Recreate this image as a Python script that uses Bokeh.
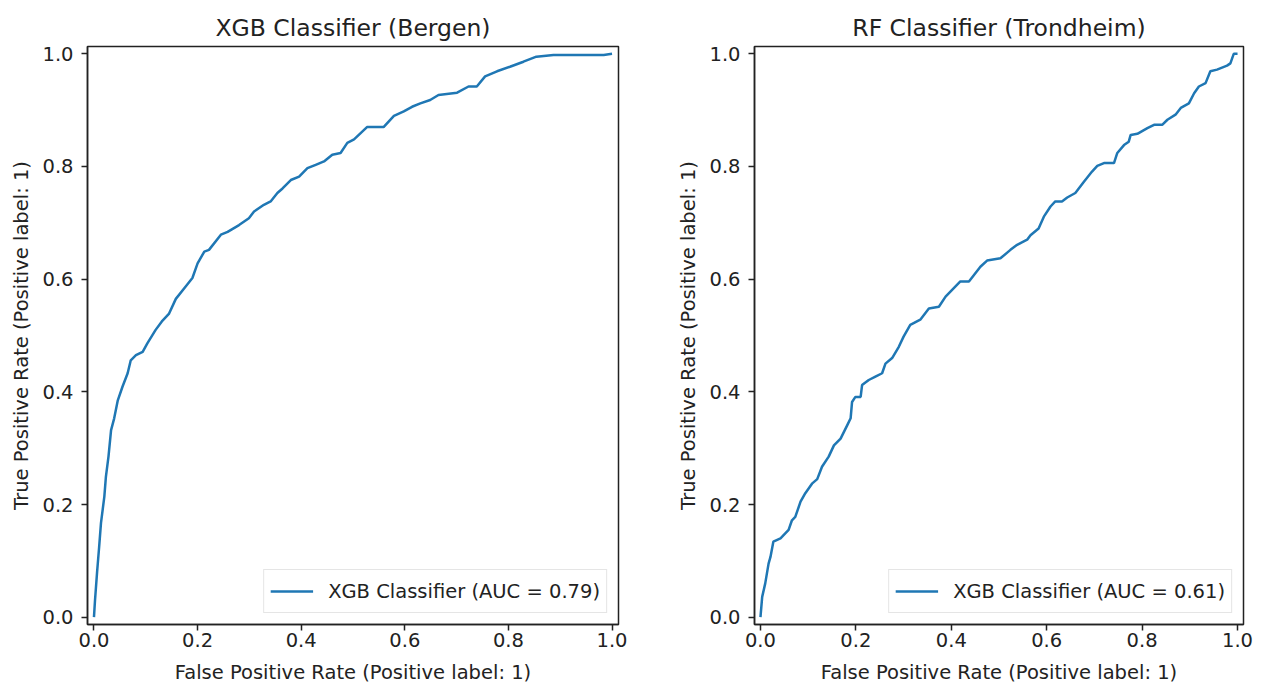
from bokeh.plotting import figure
from bokeh.layouts import row
from bokeh.models import Range1d, FixedTicker, PrintfTickFormatter, Legend, LegendItem
from bokeh.embed import file_html
from bokeh.resources import INLINE

# ---- data ----
bergen_fpr = [0, 0.002, 0.006, 0.010, 0.0135, 0.020, 0.023, 0.028, 0.033, 0.039, 0.046, 0.055,
              0.065, 0.071, 0.081, 0.094, 0.103, 0.119, 0.131, 0.145, 0.158, 0.177, 0.190, 0.200,
              0.213, 0.222, 0.245, 0.258, 0.280, 0.299, 0.309, 0.328, 0.341, 0.354, 0.364, 0.380,
              0.396, 0.412, 0.428, 0.444, 0.460, 0.476, 0.489, 0.502, 0.527, 0.559, 0.579, 0.598,
              0.614, 0.630, 0.649, 0.665, 0.701, 0.723, 0.739, 0.755, 0.778, 0.803, 0.829, 0.854,
              0.887, 0.984, 1.0]
bergen_tpr = [0, 0.03, 0.08, 0.125, 0.167, 0.214, 0.249, 0.285, 0.332, 0.353, 0.385, 0.409,
              0.433, 0.456, 0.465, 0.471, 0.486, 0.510, 0.525, 0.539, 0.565, 0.587, 0.602, 0.628,
              0.649, 0.652, 0.679, 0.684, 0.696, 0.708, 0.720, 0.732, 0.738, 0.753, 0.761, 0.776,
              0.782, 0.797, 0.803, 0.809, 0.821, 0.824, 0.842, 0.848, 0.870, 0.870, 0.890, 0.898,
              0.906, 0.912, 0.918, 0.927, 0.931, 0.942, 0.942, 0.960, 0.969, 0.977, 0.986, 0.995,
              0.998, 0.998, 1.0]

trond_fpr = [0, 0.0036, 0.010, 0.017, 0.021, 0.027, 0.042, 0.059, 0.066, 0.073, 0.084, 0.094,
             0.108, 0.119, 0.129, 0.143, 0.154, 0.168, 0.182, 0.189, 0.192, 0.199, 0.210, 0.213,
             0.227, 0.241, 0.255, 0.262, 0.276, 0.290, 0.300, 0.314, 0.335, 0.353, 0.374, 0.388,
             0.419, 0.437, 0.461, 0.475, 0.503, 0.524, 0.538, 0.559, 0.566, 0.583, 0.594, 0.608,
             0.618, 0.632, 0.643, 0.660, 0.678, 0.695, 0.706, 0.720, 0.741, 0.748, 0.762, 0.772,
             0.776, 0.790, 0.811, 0.825, 0.842, 0.853, 0.870, 0.881, 0.898, 0.909, 0.919, 0.933,
             0.943, 0.957, 0.978, 0.985, 0.992, 1.0]
trond_tpr = [0, 0.036, 0.060, 0.095, 0.107, 0.134, 0.140, 0.155, 0.172, 0.178, 0.205, 0.220,
             0.237, 0.245, 0.267, 0.285, 0.305, 0.317, 0.341, 0.353, 0.382, 0.391, 0.391, 0.412,
             0.421, 0.427, 0.433, 0.450, 0.460, 0.480, 0.498, 0.519, 0.528, 0.548, 0.551, 0.569,
             0.596, 0.596, 0.622, 0.633, 0.637, 0.652, 0.661, 0.670, 0.678, 0.690, 0.711, 0.729,
             0.738, 0.738, 0.745, 0.753, 0.773, 0.791, 0.801, 0.806, 0.806, 0.824, 0.838, 0.844,
             0.856, 0.858, 0.868, 0.874, 0.874, 0.883, 0.892, 0.904, 0.912, 0.930, 0.942, 0.948,
             0.969, 0.972, 0.979, 0.983, 1.0, 1.0]

tick_values = [0.0, 0.2, 0.4, 0.6, 0.8, 1.0]
titles = ["XGB Classifier (Bergen)", "RF Classifier (Trondheim)"]
legend_labels = ["XGB Classifier (AUC = 0.79)", "XGB Classifier (AUC = 0.61)"]
x_label = "False Positive Rate (Positive label: 1)"
y_label = "True Positive Rate (Positive label: 1)"

FONT = "DejaVu Sans"
TXT = "#222222"
LINE = "#1f77b4"


def make_fig(title, xs, ys, label, width, border_left, border_right):
    p = figure(width=width, height=688, output_backend="svg", toolbar_location=None,
               x_range=Range1d(-0.0125, 1.0125), y_range=Range1d(-0.013, 1.013),
               min_border_left=border_left, min_border_right=border_right,
               min_border_top=46, min_border_bottom=64)
    p.title.text = title
    p.title.text_font = FONT
    p.title.text_font_size = "23.5px"
    p.title.text_font_style = "normal"
    p.title.text_color = TXT
    p.title.align = "center"
    p.title.standoff = 9

    p.xgrid.visible = False
    p.ygrid.visible = False
    p.background_fill_color = "white"
    p.border_fill_color = "white"
    p.outline_line_color = TXT
    p.outline_line_width = 1.5

    for ax in (p.xaxis[0], p.yaxis[0]):
        ax.ticker = FixedTicker(ticks=tick_values)
        ax.formatter = PrintfTickFormatter(format="%.1f")
        ax.minor_tick_line_color = None
        ax.major_tick_in = 0
        ax.major_tick_out = 6
        ax.major_tick_line_width = 1.5
        ax.major_tick_line_color = TXT
        ax.axis_line_color = TXT
        ax.axis_line_width = 1.5
        ax.major_label_text_font = FONT
        ax.major_label_text_font_size = "19.5px"
        ax.major_label_text_color = TXT
        ax.axis_label_text_font = FONT
        ax.axis_label_text_font_size = "19.5px"
        ax.axis_label_text_font_style = "normal"
        ax.axis_label_text_color = TXT

    p.xaxis.axis_label = x_label
    p.yaxis.axis_label = y_label
    p.xaxis.major_label_standoff = 2
    p.xaxis.axis_label_standoff = 11
    p.yaxis.major_label_standoff = 8
    p.yaxis.axis_label_standoff = 6

    r = p.line(xs, ys, line_color=LINE, line_width=2.5)

    legend = Legend(items=[LegendItem(label=label, renderers=[r])], location="bottom_right")
    legend.margin = 11
    legend.padding = 6
    legend.glyph_width = 43
    legend.glyph_height = 30
    legend.label_height = 30
    legend.label_standoff = 15
    legend.label_text_font = FONT
    legend.label_text_font_size = "19.5px"
    legend.label_text_color = TXT
    legend.border_line_color = "#cccccc"
    legend.border_line_width = 1.2
    legend.background_fill_alpha = 0.8
    p.add_layout(legend)
    return p


p1 = make_fig(titles[0], bergen_fpr, bergen_tpr, legend_labels[0], 648, 87, 30)
p2 = make_fig(titles[1], trond_fpr, trond_tpr, legend_labels[1], 606, 106, 11)

layout = row(p1, p2)
open("out.html", "w").write(file_html(layout, INLINE))
